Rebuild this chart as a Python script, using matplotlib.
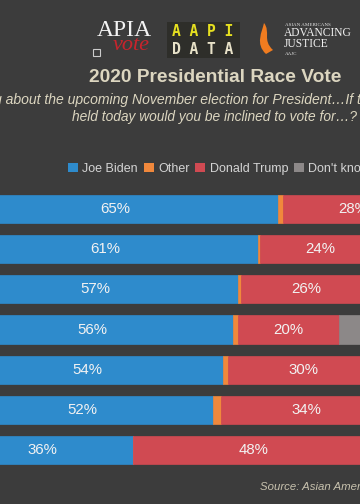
import matplotlib
matplotlib.use('Agg')
import matplotlib.pyplot as plt
from matplotlib.patches import Patch, Rectangle, PathPatch
from matplotlib.path import Path

# --- data (rows top to bottom) ---
biden = [65, 61, 57, 56, 54, 52, 36]
other = [1, 0.4, 0.6, 1, 1, 1.6, 0]
trump = [28, 24, 26, 20, 30, 34, 48]
dont_know = [6, 15, 16, 23, 15, 12, 16]
series_names = ['Joe Biden', 'Other', 'Donald Trump', "Don't know"]

BG = '#3c3c3c'
COLORS = ['#2e8bcc', '#f0883c', '#d04a52', '#8c8888']
BEIGE = '#dcd6c0'

W, H = 360, 504
fig = plt.figure(figsize=(W / 100, H / 100), dpi=100, facecolor=BG)


def fx(px):
    return px / W


def fy(py):
    return 1 - py / H


# --- bar axes ---
ax = fig.add_axes([0, fy(470), 1, (470 - 189) / H])
ax.set_facecolor(BG)
rows = list(range(len(biden)))
lefts = [0] * len(biden)
for name, vals, col in zip(series_names, [biden, other, trump, dont_know], COLORS):
    ax.barh(rows, vals, left=lefts, height=0.7, color=col, edgecolor=col, linewidth=0.5)
    if name in ('Joe Biden', 'Donald Trump'):
        for r, (l, v) in enumerate(zip(lefts, vals)):
            ax.text(l + v / 2, r, f'{v}%', ha='center', va='center',
                    color='#f2f2f2', fontsize=10.8, family='Liberation Sans')
    lefts = [l + v for l, v in zip(lefts, vals)]

ax.set_xlim(48 / 5.02, (W + 48) / 5.02)
ax.set_ylim(6.5, -0.5)
ax.axis('off')

# --- legend ---
handles = [Patch(facecolor=c, edgecolor='none') for c in COLORS]
fig.legend(handles, series_names, loc='center left', bbox_to_anchor=(fx(63), fy(169)),
           ncol=4, frameon=False, handlelength=0.8, handleheight=0.8,
           handletextpad=0.35, columnspacing=0.45, borderaxespad=0,
           prop={'family': 'Liberation Sans', 'size': 9}, labelcolor='#d4d4d4')

# --- titles ---
fig.text(fx(215), fy(78), '2020 Presidential Race Vote', ha='center', va='center',
         color=BEIGE, fontsize=13.8, fontweight='bold', family='Liberation Sans')
fig.text(fx(206), fy(100),
         'Thinking about the upcoming November election for President\u2026If the election were',
         ha='center', va='center', color=BEIGE, fontsize=10.1, style='italic',
         family='Liberation Sans')
fig.text(fx(214), fy(117), 'held today would you be inclined to vote for\u2026?',
         ha='center', va='center', color=BEIGE, fontsize=9.9, style='italic',
         family='Liberation Sans')
fig.text(fx(260), fy(487), 'Source: Asian American Voter Survey 2020', ha='left', va='center',
         color='#c8c2ae', fontsize=8.2, style='italic', family='Liberation Sans')

# --- logos (approximate) ---
fig.text(fx(124), fy(31), 'APIA', ha='center', va='center', color='#f4f4f4',
         fontsize=17, family='Liberation Serif')
fig.text(fx(131), fy(46), 'vote', ha='center', va='center', color='#c8242c',
         fontsize=16, style='italic', family='Liberation Serif')
fig.patches.append(Rectangle((fx(93), fy(56)), fx(7), 7 / H, transform=fig.transFigure,
                             facecolor='none', edgecolor='#cccccc', linewidth=0.8))

fig.patches.append(Rectangle((fx(167), fy(58)), fx(73), 36 / H, transform=fig.transFigure,
                             facecolor='#2e2e2a', edgecolor='none'))
fig.text(fx(203), fy(32), 'A A P I', ha='center', va='center', color='#e6e020',
         fontsize=10.5, fontweight='bold', family='DejaVu Sans Mono')
fig.text(fx(203), fy(49), 'D A T A', ha='center', va='center', color='#e8e2c8',
         fontsize=10.5, fontweight='bold', family='DejaVu Sans Mono')

verts = [(fx(266), fy(54)), (fx(255), fy(44)), (fx(262), fy(32)), (fx(264), fy(23)),
         (fx(271), fy(32)), (fx(262), fy(40)), (fx(273), fy(50)), (fx(266), fy(54))]
codes = [Path.MOVETO, Path.CURVE4, Path.CURVE4, Path.CURVE4,
         Path.CURVE4, Path.CURVE4, Path.CURVE4, Path.CLOSEPOLY]
fig.patches.append(PathPatch(Path(verts, codes), transform=fig.transFigure,
                             facecolor='#f07c20', edgecolor='none'))
fig.text(fx(285), fy(25), 'ASIAN AMERICANS', ha='left', va='center', color='#e8e8e8',
         fontsize=3.6, family='Liberation Serif')
fig.text(fx(284), fy(33.5), 'ADVANCING', ha='left', va='center', color='#f0f0f0',
         fontsize=8.3, family='Liberation Serif')
fig.text(fx(284), fy(44), 'JUSTICE', ha='left', va='center', color='#f0f0f0',
         fontsize=8.3, family='Liberation Serif')
fig.text(fx(285), fy(54), 'AAJC', ha='left', va='center', color='#e8e8e8',
         fontsize=3.6, family='Liberation Serif')

fig.savefig('out.png', dpi=100, facecolor=BG)
